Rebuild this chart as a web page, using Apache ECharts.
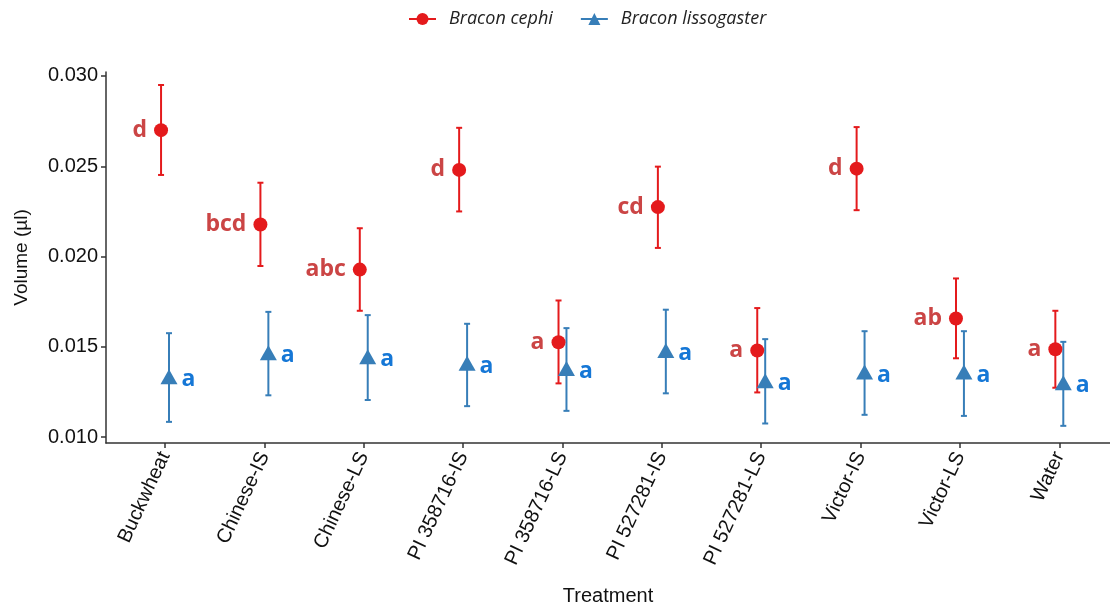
<!DOCTYPE html>
<html>
<head>
<meta charset="utf-8">
<script src="https://cdn.jsdelivr.net/npm/echarts@6/dist/echarts.min.js"></script>
<style>
  html, body { margin: 0; padding: 0; background: #fff; }
  #chart { width: 1110px; height: 608px; }
</style>
</head>
<body>
<div id="chart"></div>
<script>
// Data
var treatments = ['Buckwheat', 'Chinese-IS', 'Chinese-LS', 'PI 358716-IS', 'PI 358716-LS',
  'PI 527281-IS', 'PI 527281-LS', 'Victor-IS', 'Victor-LS', 'Water'];

var cephiMean = [0.0270, 0.02178, 0.01928, 0.0248, 0.01526, 0.02274, 0.0148, 0.02487, 0.01657, 0.01487];
var cephiLow  = [0.02452, 0.01948, 0.0170, 0.0225, 0.01298, 0.02048, 0.01248, 0.02257, 0.01437, 0.01274];
var cephiHigh = [0.0295, 0.02409, 0.02157, 0.02713, 0.01757, 0.02498, 0.01715, 0.02717, 0.01879, 0.0170];
var cephiLetters = ['d', 'bcd', 'abc', 'd', 'a', 'cd', 'a', 'd', 'ab', 'a'];

var lissoMean = [0.01335, 0.01468, 0.01446, 0.01409, 0.01381, 0.0148, 0.01313, 0.01361, 0.01361, 0.01302];
var lissoLow  = [0.01085, 0.01232, 0.01206, 0.01172, 0.01146, 0.01243, 0.01076, 0.01124, 0.01118, 0.01063];
var lissoHigh = [0.01576, 0.01694, 0.01676, 0.01628, 0.01604, 0.01706, 0.01543, 0.01587, 0.01587, 0.01528];
var lissoLetters = ['a', 'a', 'a', 'a', 'a', 'a', 'a', 'a', 'a', 'a'];

var yTicks = [0.010, 0.015, 0.020, 0.025, 0.030];
var xTicks = [0, 1, 2, 3, 4, 5, 6, 7, 8, 9];

var dodge = 0.04;
var red = '#e41a1c';
var blue = '#377eb8';

function points(means, shift) {
  return means.map(function (v, i) { return [i + shift, v]; });
}
function bars(low, high, shift) {
  return low.map(function (v, i) { return [i + shift, v, high[i]]; });
}

// vertical error bar with small caps
function errorBar(color) {
  return function (params, api) {
    var x = api.value(0);
    var lo = api.coord([x, api.value(1)]);
    var hi = api.coord([x, api.value(2)]);
    var cap = 3;
    var style = { stroke: color, lineWidth: 2 };
    return {
      type: 'group',
      children: [
        { type: 'line', shape: { x1: lo[0], y1: lo[1], x2: hi[0], y2: hi[1] }, style: style },
        { type: 'line', shape: { x1: lo[0] - cap, y1: lo[1], x2: lo[0] + cap, y2: lo[1] }, style: style },
        { type: 'line', shape: { x1: hi[0] - cap, y1: hi[1], x2: hi[0] + cap, y2: hi[1] }, style: style }
      ]
    };
  };
}

var chart = echarts.init(document.getElementById('chart'));

var option = {
  animation: false,
  legend: {
    top: 5,
    left: 403,
    itemWidth: 27,
    itemHeight: 15,
    itemGap: 27,
    data: ['Bracon cephi', 'Bracon lissogaster'],
    textStyle: { fontFamily: 'Open Sans', fontStyle: 'italic', fontSize: 18, color: '#222', padding: [0, 0, 0, 8] },
    lineStyle: { opacity: 1, width: 2 }
  },
  grid: { left: 106, right: 0, top: 72, bottom: 165, outerBoundsMode: 'none', containLabel: false },
  xAxis: {
    type: 'value',
    min: -0.594,
    max: 9.51,
    name: 'Treatment',
    nameLocation: 'middle',
    nameGap: 143,
    nameTextStyle: { fontFamily: 'Liberation Sans', fontSize: 20, color: '#111' },
    splitLine: { show: false },
    axisLine: { show: true, onZero: false, lineStyle: { color: '#333', width: 1.5 } },
    axisTick: { show: true, length: 5, lineStyle: { color: '#333', width: 1.5 }, customValues: xTicks },
    axisLabel: {
      customValues: xTicks,
      rotate: 65,
      margin: 10,
      fontFamily: 'Liberation Sans',
      fontSize: 20,
      color: '#111',
      formatter: function (v) { return treatments[Math.round(v)]; }
    }
  },
  yAxis: {
    type: 'value',
    min: 0.00968,
    max: 0.03022,
    name: 'Volume (\u00b5l)',
    nameLocation: 'middle',
    nameGap: 75,
    nameTextStyle: { fontFamily: 'Liberation Sans', fontSize: 19, color: '#111' },
    splitLine: { show: false },
    axisLine: { show: true, onZero: false, lineStyle: { color: '#333', width: 1.5 } },
    axisTick: { show: true, length: 5, lineStyle: { color: '#333', width: 1.5 }, customValues: yTicks },
    axisLabel: {
      customValues: yTicks,
      margin: 8,
      fontFamily: 'Liberation Sans',
      fontSize: 20,
      color: '#111',
      formatter: function (v) { return v.toFixed(3); }
    }
  },
  series: [
    {
      type: 'custom',
      name: 'Bracon cephi err',
      renderItem: errorBar(red),
      data: bars(cephiLow, cephiHigh, -dodge),
      z: 2
    },
    {
      type: 'custom',
      name: 'Bracon lissogaster err',
      renderItem: errorBar(blue),
      data: bars(lissoLow, lissoHigh, dodge),
      z: 2
    },
    {
      type: 'line',
      name: 'Bracon cephi',
      data: points(cephiMean, -dodge),
      symbol: 'circle',
      symbolSize: 14,
      showSymbol: true,
      color: red,
      itemStyle: { color: red },
      lineStyle: { opacity: 0, color: red },
      z: 3,
      label: {
        show: true,
        position: 'left',
        distance: 7,
        fontFamily: 'Open Sans',
        fontWeight: 'bold',
        fontSize: 23,
        color: '#cb4545',
        formatter: function (p) { return cephiLetters[p.dataIndex]; }
      }
    },
    {
      type: 'line',
      name: 'Bracon lissogaster',
      data: points(lissoMean, dodge),
      symbol: 'triangle',
      symbolSize: [17, 15],
      showSymbol: true,
      color: blue,
      itemStyle: { color: blue },
      lineStyle: { opacity: 0, color: blue },
      z: 3,
      label: {
        show: true,
        position: 'right',
        distance: 4,
        offset: [0, 3],
        fontFamily: 'Open Sans',
        fontWeight: 'bold',
        fontSize: 23,
        color: '#1577d6',
        formatter: function (p) { return lissoLetters[p.dataIndex]; }
      }
    }
  ]
};

chart.setOption(option);
</script>
</body>
</html>
